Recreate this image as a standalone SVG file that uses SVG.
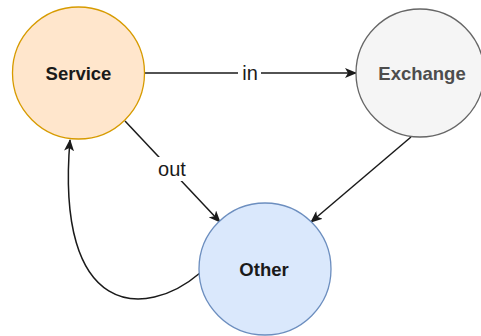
<svg xmlns="http://www.w3.org/2000/svg" width="481" height="336" viewBox="0 0 481 336">
<style>
.lbl{font-family:"Liberation Sans",Arial,sans-serif;font-size:18.5px;font-weight:bold;text-anchor:middle}
.el{font-family:"Liberation Sans",Arial,sans-serif;font-size:20px;text-anchor:middle;fill:#1a1a1a}
.edge{fill:none;stroke:#1a1a1a;stroke-width:1.5}
</style>
<defs>
<marker id="ah" viewBox="0 0 12 10" refX="11" refY="5" markerWidth="12" markerHeight="10" markerUnits="userSpaceOnUse" orient="auto">
<path d="M0,0 L12,5 L0,10 L3,5 Z" fill="#1a1a1a"/>
</marker>
</defs>
<rect width="481" height="336" fill="#ffffff"/>
<g id="connectors">
<line class="edge" x1="145" y1="73" x2="356" y2="73" marker-end="url(#ah)"/>
<rect x="238" y="62" width="23" height="22" fill="#ffffff"/>
<text class="el" x="250" y="80">in</text>
<line class="edge" x1="125" y1="121" x2="220" y2="222" marker-end="url(#ah)"/>
<rect x="154" y="157" width="36" height="24" fill="#ffffff"/>
<text class="el" x="172" y="176">out</text>
<line class="edge" x1="411" y1="137" x2="311" y2="222" marker-end="url(#ah)"/>
<path class="edge" d="M200,273 C145,320 55,318 70,140" marker-end="url(#ah)"/>
</g>
<g id="service">
<circle cx="78.5" cy="73" r="66" fill="#ffe6cc" stroke="#d79b00" stroke-width="1.3"/>
<text class="lbl" x="78.5" y="80" fill="#1a1a1a">Service</text>
</g>
<g id="exchange">
<circle cx="420" cy="73" r="64" fill="#f5f5f5" stroke="#666666" stroke-width="1.3"/>
<text class="lbl" x="422" y="80" fill="#4d4d4d">Exchange</text>
</g>
<g id="other">
<circle cx="265" cy="269" r="66" fill="#dae8fc" stroke="#6c8ebf" stroke-width="1.3"/>
<text class="lbl" x="264" y="276" fill="#1a1a1a">Other</text>
</g>
</svg>
